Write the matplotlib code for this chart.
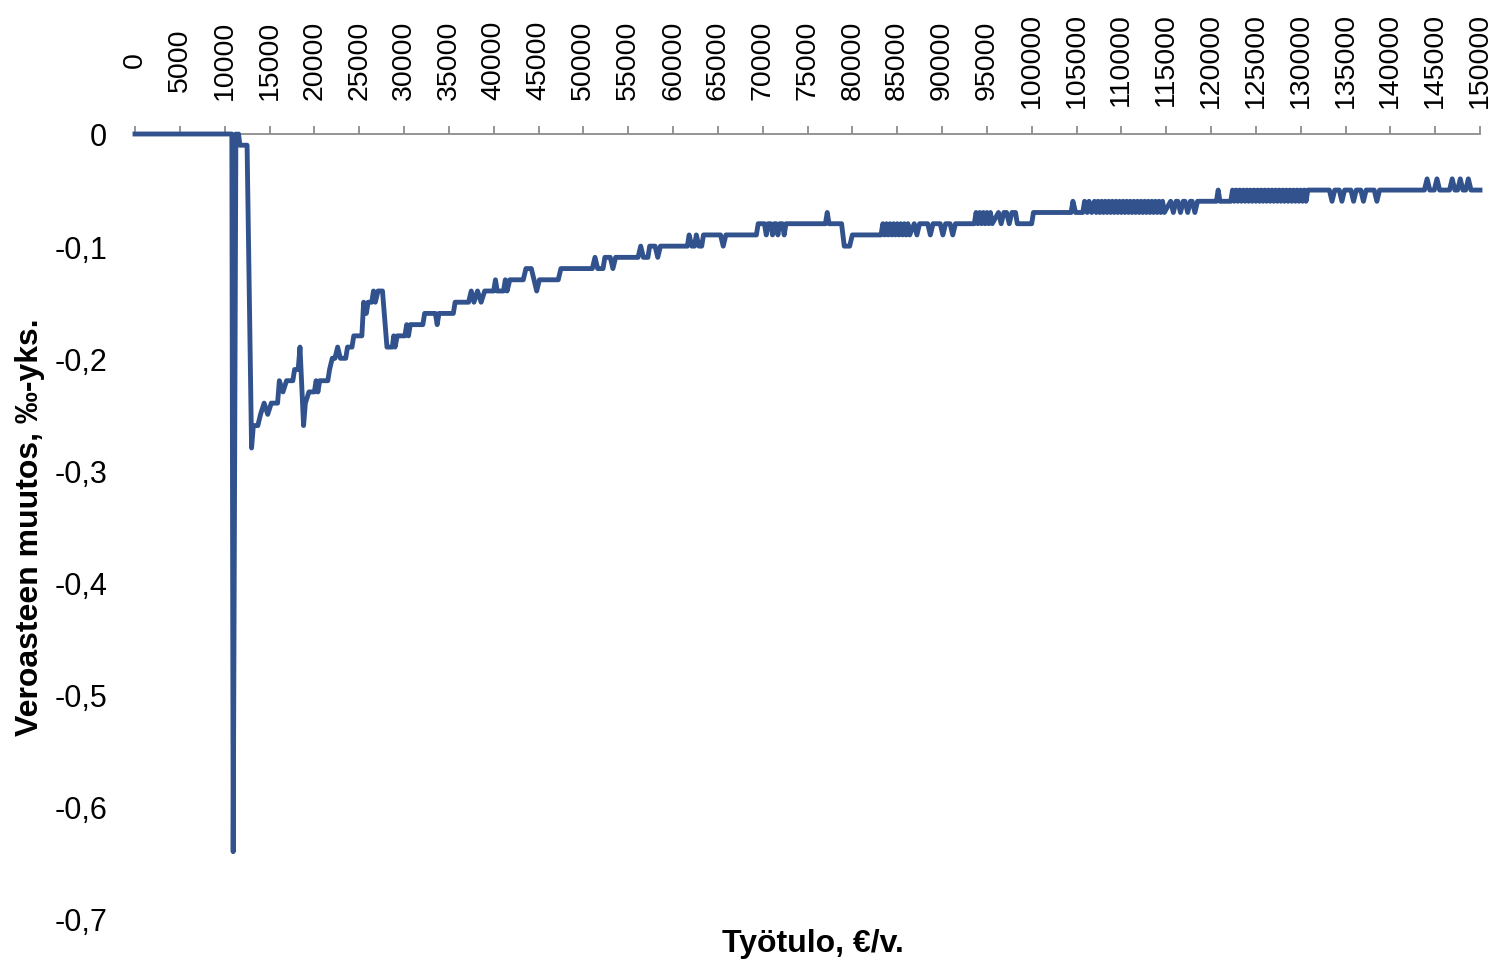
import matplotlib
matplotlib.use('Agg')
import matplotlib.pyplot as plt

plt.rcParams['font.family'] = ['Liberation Sans', 'DejaVu Sans']

# Työtulo (€/v.) ja veroasteen muutos (%-yks.), luettu kuvasta
tulo = [
    0, 10800, 10950, 11250, 11400, 11550, 11700, 12500, 13000,
    13200, 13700, 14000, 14400, 14800, 15200, 15900, 16100, 16500, 16900,
    17600, 17800, 18200, 18400, 18800, 19000, 19400, 20000, 20200, 20400,
    20600, 21500, 21700, 22000, 22300, 22600, 22900, 23500, 23700, 24200,
    24400, 25300, 25500, 25800, 26000, 26400, 26600, 26800, 27100, 27600,
    28100, 28700, 28850, 29000, 29250, 30100, 30300, 30500, 30700, 32100,
    32300, 33500, 33700, 33900, 35500, 35700, 37200, 37500, 37800, 38200,
    38600, 39000, 40000, 40200, 40400, 41100, 41300, 41500, 41800, 43300,
    43600, 44200, 44500, 44800, 45100, 47200, 47500, 51000, 51300, 51600,
    52200, 52400, 53000, 53300, 53600, 56100, 56400, 56700, 57200, 57400,
    58000, 58300, 58600, 61600, 61800, 62100, 62400, 62600, 62900, 63200,
    63400, 65300, 65600, 65900, 69300, 69500, 70200, 70400, 70600, 70900,
    71100, 71300, 71500, 71700, 71900, 72200, 72400, 72600, 77000, 77200,
    77400, 78800, 79100, 79700, 80000, 83200,
    83400, 83600, 83800, 84000, 84200, 84400, 84600, 84800,
    85000, 85200, 85400, 85600, 85800, 86000, 86200, 86400,
    86900, 87200, 87500, 88400, 88700, 89000, 89800, 90100, 90400, 90900, 91200, 91500, 93600,
    93800, 94000, 94200, 94400, 94600, 94800, 95000, 95200, 95400, 95600,
    96300, 96600, 96900, 97200, 97500, 97800, 98200, 98400, 100000, 100200,
    104400, 104600, 104900, 105700, 105900, 106200, 106400, 106700,
    107000, 107200, 107400, 107600, 107800, 108000, 108200, 108400, 108600, 108800,
    109000, 109200, 109400, 109600, 109800, 110000, 110200, 110400, 110600, 110800,
    111000, 111200, 111400, 111600, 111800, 112000, 112200, 112400, 112600, 112800,
    113000, 113200, 113400, 113600, 113800, 114000, 114200, 114400, 114600, 114800,
    115500, 115800, 116100, 116300, 116600, 116900, 117100, 117400, 117700, 117900, 118200, 118500,
    120600, 120800, 121000, 122200,
    122400, 122600, 122800, 123000, 123200, 123400, 123600, 123800, 124000, 124200,
    124400, 124600, 124800, 125000, 125200, 125400, 125600, 125800, 126000, 126200,
    126400, 126600, 126800, 127000, 127200, 127400, 127600, 127800, 128000, 128200,
    128400, 128600, 128800, 129000, 129200, 129400, 129600, 129800, 130000, 130200,
    130400, 130600, 130800,
    133200, 133500, 133800, 134300, 134600, 134900, 135600, 135900, 136200,
    136700, 137000, 137300, 138200, 138500, 138800,
    143800, 144100, 144400, 144900, 145200, 145500, 146600, 146900, 147200,
    147500, 147800, 148100, 148400, 148700, 149000, 150000,
]
muutos = [
    0, 0, -0.64, 0, -0.01, 0, -0.01, -0.01, -0.28,
    -0.26, -0.26, -0.25, -0.24, -0.25, -0.24, -0.24, -0.22, -0.23, -0.22,
    -0.22, -0.21, -0.21, -0.19, -0.26, -0.24, -0.23, -0.23, -0.22, -0.23,
    -0.22, -0.22, -0.21, -0.20, -0.20, -0.19, -0.20, -0.20, -0.19, -0.19,
    -0.18, -0.18, -0.15, -0.16, -0.15, -0.15, -0.14, -0.15, -0.14, -0.14,
    -0.19, -0.19, -0.18, -0.19, -0.18, -0.18, -0.17, -0.18, -0.17, -0.17,
    -0.16, -0.16, -0.17, -0.16, -0.16, -0.15, -0.15, -0.14, -0.15, -0.14,
    -0.15, -0.14, -0.14, -0.13, -0.14, -0.14, -0.13, -0.14, -0.13, -0.13,
    -0.12, -0.12, -0.13, -0.14, -0.13, -0.13, -0.12, -0.12, -0.11, -0.12,
    -0.12, -0.11, -0.11, -0.12, -0.11, -0.11, -0.10, -0.11, -0.11, -0.10,
    -0.10, -0.11, -0.10, -0.10, -0.09, -0.10, -0.10, -0.09, -0.10, -0.10,
    -0.09, -0.09, -0.10, -0.09, -0.09, -0.08, -0.08, -0.09, -0.08, -0.08,
    -0.09, -0.08, -0.08, -0.09, -0.08, -0.08, -0.09, -0.08, -0.08, -0.07,
    -0.08, -0.08, -0.10, -0.10, -0.09, -0.09,
    -0.08, -0.09, -0.08, -0.09, -0.08, -0.09, -0.08, -0.09,
    -0.08, -0.09, -0.08, -0.09, -0.08, -0.09, -0.08, -0.09,
    -0.08, -0.09, -0.08, -0.08, -0.09, -0.08, -0.08, -0.09, -0.08, -0.08, -0.09, -0.08, -0.08,
    -0.07, -0.08, -0.07, -0.08, -0.07, -0.08, -0.07, -0.08, -0.07, -0.08,
    -0.07, -0.08, -0.07, -0.07, -0.08, -0.07, -0.07, -0.08, -0.08, -0.07,
    -0.07, -0.06, -0.07, -0.07, -0.06, -0.07, -0.06, -0.07,
    -0.06, -0.07, -0.06, -0.07, -0.06, -0.07, -0.06, -0.07, -0.06, -0.07,
    -0.06, -0.07, -0.06, -0.07, -0.06, -0.07, -0.06, -0.07, -0.06, -0.07,
    -0.06, -0.07, -0.06, -0.07, -0.06, -0.07, -0.06, -0.07, -0.06, -0.07,
    -0.06, -0.07, -0.06, -0.07, -0.06, -0.07, -0.06, -0.07, -0.06, -0.07,
    -0.06, -0.07, -0.06, -0.06, -0.07, -0.06, -0.06, -0.07, -0.06, -0.06, -0.07, -0.06,
    -0.06, -0.05, -0.06, -0.06,
    -0.05, -0.06, -0.05, -0.06, -0.05, -0.06, -0.05, -0.06, -0.05, -0.06,
    -0.05, -0.06, -0.05, -0.06, -0.05, -0.06, -0.05, -0.06, -0.05, -0.06,
    -0.05, -0.06, -0.05, -0.06, -0.05, -0.06, -0.05, -0.06, -0.05, -0.06,
    -0.05, -0.06, -0.05, -0.06, -0.05, -0.06, -0.05, -0.06, -0.05, -0.06,
    -0.05, -0.06, -0.05,
    -0.05, -0.06, -0.05, -0.05, -0.06, -0.05, -0.05, -0.06, -0.05,
    -0.05, -0.06, -0.05, -0.05, -0.06, -0.05,
    -0.05, -0.04, -0.05, -0.05, -0.04, -0.05, -0.05, -0.04, -0.05,
    -0.05, -0.04, -0.05, -0.05, -0.04, -0.05, -0.05,
]
assert len(tulo) == len(muutos)

x_tikit = [0, 5000, 10000, 15000, 20000, 25000, 30000, 35000, 40000, 45000,
           50000, 55000, 60000, 65000, 70000, 75000, 80000, 85000, 90000, 95000,
           100000, 105000, 110000, 115000, 120000, 125000, 130000, 135000,
           140000, 145000, 150000]
y_tikit = [0, -0.1, -0.2, -0.3, -0.4, -0.5, -0.6, -0.7]
y_nimet = ['0', '-0,1', '-0,2', '-0,3', '-0,4', '-0,5', '-0,6', '-0,7']

fig = plt.figure(figsize=(14.92, 9.62), dpi=100)
ax = fig.add_axes([135 / 1492, 42 / 962, 1345 / 1492, 785 / 962])

ax.plot(tulo, muutos, color='#31528c', linewidth=3.5, zorder=3,
        clip_on=False, solid_joinstyle='round')

ax.set_xlim(0, 150000)
ax.set_ylim(-0.7, 0)

for side in ['left', 'right', 'bottom']:
    ax.spines[side].set_visible(False)
ax.spines['top'].set_color('#8c8c8c')
ax.spines['top'].set_linewidth(1.3)

# x-akseli ylhäällä, nollatasolla
ax.xaxis.tick_top()
ax.set_xticks(x_tikit)
ax.set_xticklabels([str(v) for v in x_tikit], rotation=90)
ax.tick_params(axis='x', direction='out', length=6, width=1.3,
               color='#8c8c8c', pad=48, labelsize=20.5)
for tick in ax.xaxis.get_major_ticks():
    tick.label2.set_va('center')

ax.set_yticks(y_tikit)
ax.set_yticklabels(y_nimet)
ax.tick_params(axis='y', length=0, pad=20, labelsize=22)

ax.set_ylabel('Veroasteen muutos, ‰-yks.', fontsize=23, fontweight='bold')
ax.yaxis.set_label_coords(-0.067, 0.5)

ax.xaxis.set_label_position('bottom')
ax.set_xlabel('Työtulo, €/v.', fontsize=23, fontweight='bold')
ax.xaxis.set_label_coords(0.504, -0.011)

fig.savefig('out.png', dpi=100)
